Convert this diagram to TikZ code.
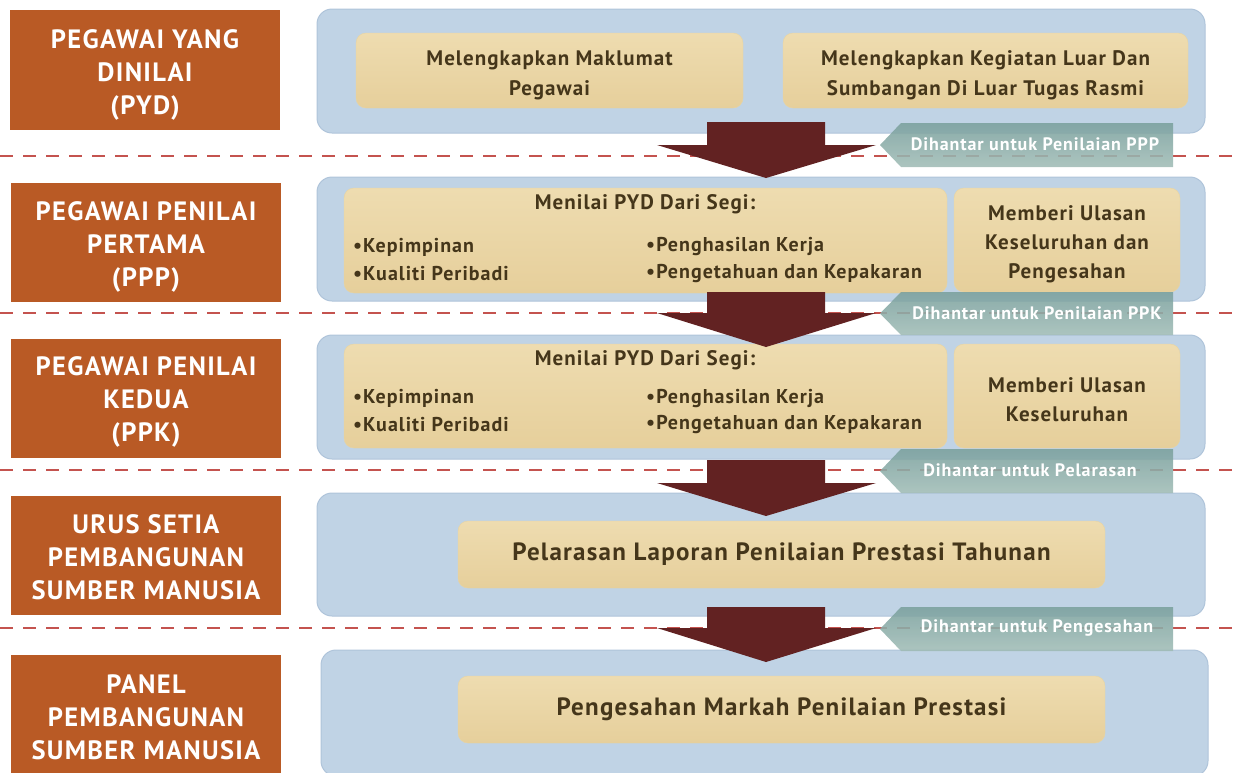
\documentclass[tikz,border=0pt]{standalone}
\usepackage{fontspec}
\setmainfont{PT Sans}[LetterSpace=5]
\newcommand{\fsz}[2]{\fontsize{#1}{#2}\selectfont}
\definecolor{orng}{HTML}{B95A25}
\definecolor{pnl}{HTML}{C0D3E5}
\definecolor{pnlE}{HTML}{AFC4DA}
\definecolor{tanT}{HTML}{EEDCB0}
\definecolor{tanB}{HTML}{E6CF9B}
\definecolor{tanE}{HTML}{E9D4A2}
\definecolor{txt}{HTML}{45361A}
\definecolor{mar}{HTML}{622222}
\definecolor{dashc}{HTML}{C4534F}
\definecolor{tabT}{HTML}{7AA09D}
\definecolor{tabB}{HTML}{A0BCB6}
\begin{document}
\begin{tikzpicture}[x=1pt,y=-1pt,
  lbl/.style={fill=orng, inner sep=0pt, minimum width=270pt},
  lbltxt/.style={text=white, font=\bfseries\fsz{26.5}{33}, align=center, inner sep=0pt},
  panel/.style={fill=pnl, draw=pnlE, line width=1pt, rounded corners=15pt, inner sep=0pt},
  tanbox/.style={top color=tanT, bottom color=tanB, draw=tanE, rounded corners=10pt, inner sep=0pt},
  tantxt/.style={text=txt, font=\bfseries\fsz{21}{30}, align=center, inner sep=0pt},
  bigtxt/.style={text=txt, font=\bfseries\fsz{25}{28}, inner sep=0pt},
  ttl/.style={text=txt, font=\bfseries\fsz{21}{30}, inner sep=0pt},
  bul/.style={text=txt, font=\bfseries\fsz{20}{27}, inner sep=0pt, anchor=west},
  tabtxt/.style={text=white, font=\bfseries\fsz{18}{20}, inner sep=0pt},
  sep/.style={dashc, line width=2.5pt, dash pattern=on 13pt off 10pt},
  tabshape/.style={top color=tabT, bottom color=tabB, fill opacity=0.88},
  blockarrow/.style={fill=mar}
]
\useasboundingbox (0,0) rectangle (1238,772);

% left labels
\node[lbl, minimum height=120pt] (L1) at (145,70) {};
\node[lbl, minimum height=119pt] (L2) at (146,242.5) {};
\node[lbl, minimum height=119pt] (L3) at (146,398.5) {};
\node[lbl, minimum height=119pt] (L4) at (146,555.5) {};
\node[lbl, minimum height=118pt] (L5) at (146,714) {};
\node[lbltxt] (L1t) at (145,75) {PEGAWAI YANG\\DINILAI\\(PYD)};
\node[lbltxt] (L2t) at (146,247) {PEGAWAI PENILAI\\PERTAMA\\(PPP)};
\node[lbltxt] (L3t) at (146,402) {PEGAWAI PENILAI\\KEDUA\\(PPK)};
\node[lbltxt] (L4t) at (146,557.5) {URUS SETIA\\PEMBANGUNAN\\SUMBER MANUSIA};
\node[lbltxt] (L5t) at (146,717) {PANEL\\PEMBANGUNAN\\SUMBER MANUSIA};

% panels
\node[panel, minimum width=888pt, minimum height=124pt] (P1) at (761,71) {};
\node[panel, minimum width=888pt, minimum height=124pt] (P2) at (761,239) {};
\node[panel, minimum width=888pt, minimum height=124pt] (P3) at (761,397) {};
\node[panel, minimum width=888pt, minimum height=123pt] (P4) at (761,554.5) {};
\node[panel, minimum width=887pt, minimum height=126pt] (P5) at (764.5,713) {};

% tan boxes
\node[tanbox, minimum width=387pt, minimum height=75pt] (T1a) at (549.5,70.5) {};
\node[tanbox, minimum width=405pt, minimum height=75pt] (T1b) at (985.5,70.5) {};
\node[tanbox, minimum width=603pt, minimum height=105pt] (T2a) at (645.5,240.5) {};
\node[tanbox, minimum width=226pt, minimum height=104pt] (T2b) at (1067,240) {};
\node[tanbox, minimum width=603pt, minimum height=104pt] (T3a) at (645.5,396) {};
\node[tanbox, minimum width=226pt, minimum height=104pt] (T3b) at (1067,396) {};
\node[tanbox, minimum width=647pt, minimum height=67pt] (T4) at (781.5,554.5) {};
\node[tanbox, minimum width=647pt, minimum height=67pt] (T5) at (781.5,709.5) {};

\node[tantxt] (T1at) at (549.5,75) {Melengkapkan Maklumat\\Pegawai};
\node[tantxt] (T1bt) at (985.5,75) {Melengkapkan Kegiatan Luar Dan\\Sumbangan Di Luar Tugas Rasmi};
\node[tantxt, font=\bfseries\fsz{21}{29}] (T2bt) at (1067,244.5) {Memberi Ulasan\\Keseluruhan dan\\Pengesahan};
\node[tantxt, font=\bfseries\fsz{21}{29}] (T3bt) at (1067,400) {Memberi Ulasan\\Keseluruhan};
\node[bigtxt] (T4t) at (781.5,554) {Pelarasan Laporan Penilaian Prestasi Tahunan};
\node[bigtxt] (T5t) at (781.5,709.5) {Pengesahan Markah Penilaian Prestasi};

% text in the evaluation boxes
\node[ttl] (h2) at (645,204) {Menilai PYD Dari Segi:};
\node[bul] (b2a) at (353,247) {•Kepimpinan};
\node[bul] (b2b) at (353,274) {•Kualiti Peribadi};
\node[bul] (b2c) at (646,247) {•Penghasilan Kerja};
\node[bul] (b2d) at (646,274) {•Pengetahuan dan Kepakaran};
\node[ttl] (h3) at (645,360) {Menilai PYD Dari Segi:};
\node[bul] (b3a) at (353,398) {•Kepimpinan};
\node[bul] (b3b) at (353,425) {•Kualiti Peribadi};
\node[bul] (b3c) at (646,398) {•Penghasilan Kerja};
\node[bul] (b3d) at (646,425) {•Pengetahuan dan Kepakaran};

% dashed separators
\coordinate (s1l) at (0,156); \coordinate (s1r) at (1238,156);
\coordinate (s2l) at (0,313); \coordinate (s2r) at (1238,313);
\coordinate (s3l) at (0,470); \coordinate (s3r) at (1238,470);
\coordinate (s4l) at (0,628); \coordinate (s4r) at (1238,628);
\draw[sep] (s1l) -- (s1r);
\draw[sep] (s2l) -- (s2r);
\draw[sep] (s3l) -- (s3r);
\draw[sep] (s4l) -- (s4r);

% tabs
\foreach \t/\b in {123/167, 292/335, 449/493, 607/651}{
  \path[tabshape] (880,{(\t+\b)/2}) -- (901,\t) -- (1173,\t) -- (1173,\b) -- (901,\b) -- cycle;
}
\node[tabtxt] (g1) at (1035,144) {Dihantar untuk Penilaian PPP};
\node[tabtxt] (g2) at (1037,313) {Dihantar untuk Penilaian PPK};
\node[tabtxt] (g3) at (1030,470) {Dihantar untuk Pelarasan};
\node[tabtxt] (g4) at (1037,628) {Dihantar untuk Pengesahan};

% block arrows
\foreach \a/\h/\tp in {122/145/178, 292/313/347, 460/483/516, 607/628/662}{
  \fill[blockarrow] (707,\a) -- (825,\a) -- (825,\h) -- (876,\h) -- (766,\tp) -- (657,\h) -- (707,\h) -- cycle;
}
\end{tikzpicture}
\end{document}
